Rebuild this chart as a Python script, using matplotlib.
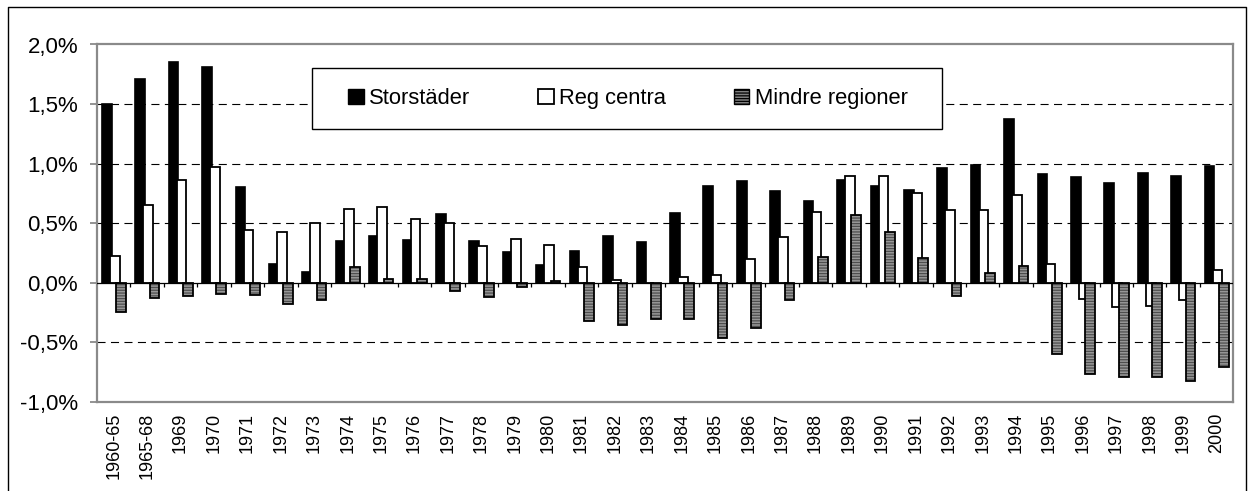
import matplotlib
matplotlib.use("Agg")
import matplotlib.pyplot as plt
from matplotlib.patches import Patch, Rectangle
from matplotlib.lines import Line2D
import numpy as np

plt.rcParams['font.family'] = ['Liberation Sans', 'DejaVu Sans']
plt.rcParams['hatch.linewidth'] = 0.9
plt.rcParams['lines.scale_dashes'] = False

categories = ['1960-65', '1965-68', '1969', '1970', '1971', '1972', '1973', '1974',
              '1975', '1976', '1977', '1978', '1979', '1980', '1981', '1982', '1983',
              '1984', '1985', '1986', '1987', '1988', '1989', '1990', '1991', '1992',
              '1993', '1994', '1995', '1996', '1997', '1998', '1999', '2000']

storstader = [1.50, 1.71, 1.85, 1.815, 0.807, 0.157, 0.087, 0.353, 0.392, 0.358, 0.58,
              0.353, 0.255, 0.149, 0.269, 0.39, 0.339, 0.583, 0.81, 0.857, 0.773, 0.689,
              0.866, 0.81, 0.78, 0.96, 0.99, 1.375, 0.91, 0.885, 0.838, 0.924, 0.893, 0.977]

reg_centra = [0.227, 0.655, 0.866, 0.97, 0.443, 0.428, 0.504, 0.622, 0.639, 0.535, 0.50,
              0.305, 0.367, 0.319, 0.134, 0.025, 0.0, 0.05, 0.064, 0.199, 0.386, 0.597,
              0.899, 0.899, 0.75, 0.61, 0.61, 0.737, 0.157, -0.14, -0.204, -0.196, -0.146, 0.109]

mindre = [-0.25, -0.13, -0.115, -0.095, -0.10, -0.18, -0.145, 0.129, 0.03, 0.03, -0.073,
          -0.123, -0.04, 0.011, -0.325, -0.353, -0.308, -0.308, -0.462, -0.381, -0.146, 0.213,
          0.571, 0.426, 0.205, -0.112, 0.081, 0.14, -0.60, -0.77, -0.795, -0.79, -0.83, -0.706]

series_names = ['Storstäder', 'Reg centra', 'Mindre regioner']
yticks = [-1.0, -0.5, 0.0, 0.5, 1.0, 1.5, 2.0]

W, H = 1248, 491
fig = plt.figure(figsize=(W / 100, H / 100), dpi=100)
fig.patch.set_facecolor('white')
ax = fig.add_axes([97 / W, (H - 401.7) / H, (1233.3 - 97) / W, (401.7 - 44.5) / H])

x = np.arange(len(categories))
bw = 0.29
ax.bar(x - 0.21, storstader, bw, color='black', edgecolor='black', linewidth=1.2, zorder=3)
ax.bar(x + 0.03, reg_centra, bw, color='white', edgecolor='black', linewidth=1.3, zorder=3)
ax.bar(x + 0.22, mindre, bw, color='#979797', edgecolor='#4e4e4e', hatch='------',
       linewidth=0, zorder=3)
ax.bar(x + 0.22, mindre, bw, fill=False, edgecolor='black', linewidth=1.3, zorder=3)

ax.set_xlim(-0.5, len(categories) - 0.5)
ax.set_ylim(-1.0, 2.0)

for yv in [-0.5, 0.5, 1.0, 1.5]:
    ax.axhline(yv, color='black', linewidth=0.8, dashes=(5.8, 3.9), zorder=1)
ax.axhline(0, color='black', linewidth=0.9, zorder=4)
ax.vlines(x[:-1] + 0.5, -0.035, 0, color='black', linewidth=0.9, zorder=4)

ax.set_yticks(yticks)
ax.set_yticklabels([f'{v:.1f}'.replace('.', ',') + '%' for v in yticks], fontsize=16)
ax.set_xticks(x)
ax.set_xticklabels(categories, rotation=90, fontsize=13, va='top')
ax.tick_params(axis='x', length=0, pad=8)
ax.tick_params(axis='y', length=5, width=1.2, color='#808080', pad=8.5)

for s in ax.spines.values():
    s.set_color('#8a8a8a')
    s.set_linewidth(1.6)

# legend
fig.add_artist(Rectangle((312 / W, (H - 129) / H), (942 - 312) / W, 61 / H,
                         transform=fig.transFigure, facecolor='white', edgecolor='black',
                         linewidth=1.0, zorder=4))
handles = [Patch(facecolor='black', edgecolor='black', linewidth=1.0),
           Patch(facecolor='white', edgecolor='black', linewidth=1.3),
           Patch(facecolor='#808080', edgecolor='black', linewidth=1.0, hatch='------')]
leg = fig.legend(handles, series_names, loc='center', ncol=3,
                 bbox_to_anchor=(628 / W, (H - 98.5) / H), frameon=False, fontsize=15.8,
                 handlelength=0.7, handleheight=0.7, handletextpad=0.25, columnspacing=3.1)
leg.set_zorder(6)

# outer border
fig.add_artist(Line2D([8 / W, 8 / W, 1246 / W, 1246 / W],
                      [-0.05, (H - 7) / H, (H - 7) / H, -0.05],
                      transform=fig.transFigure, color='black', linewidth=1.0))

fig.savefig('out.png', dpi=100)
